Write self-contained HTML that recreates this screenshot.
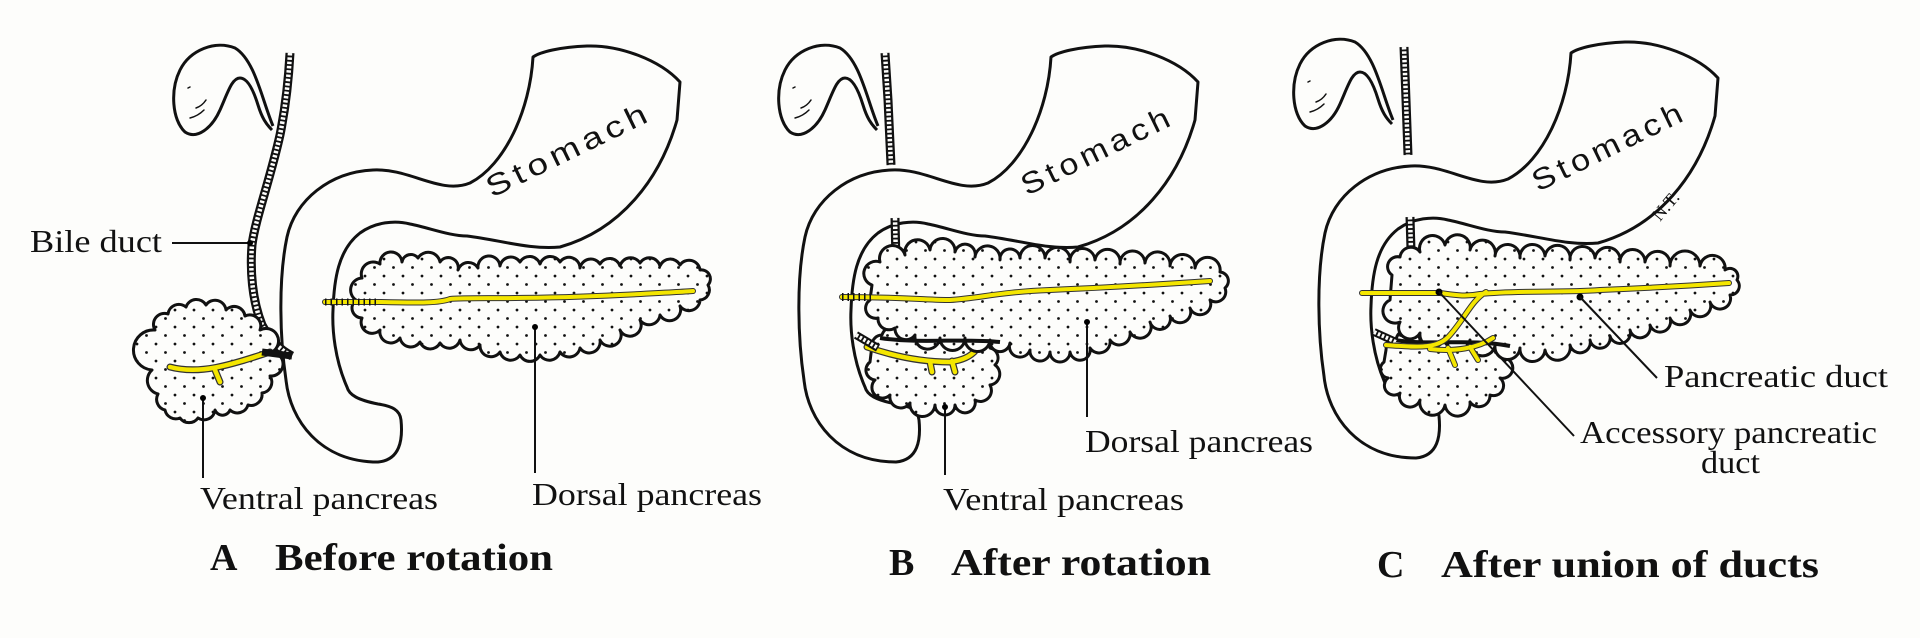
<!DOCTYPE html>
<html><head><meta charset="utf-8"><style>
html,body{margin:0;padding:0;background:#fdfdfb;}
svg{display:block}
.o{fill:none;stroke:#111;stroke-width:3;stroke-linecap:round;stroke-linejoin:round}
.w{fill:#fdfdfb;stroke:#111;stroke-width:3;stroke-linejoin:round}
.p{fill:url(#dots);stroke:#111;stroke-width:3;stroke-linejoin:round}
.hb{fill:none;stroke:#111;stroke-width:9;stroke-linecap:butt}
.hw{fill:none;stroke:#fdfdfb;stroke-width:4.5;stroke-dasharray:2.5 1.8}
.yb{fill:none;stroke:#333;stroke-width:7;stroke-linecap:round;stroke-linejoin:round}
.yy{fill:none;stroke:#f4e600;stroke-width:4.5;stroke-linecap:round;stroke-linejoin:round}
.ln{fill:none;stroke:#111;stroke-width:2}
.lab{font-family:"Liberation Serif",serif;font-size:32px;fill:#111}
.ttl{font-family:"Liberation Serif",serif;font-size:38px;font-weight:bold;fill:#111}
.st{font-family:"Liberation Sans",sans-serif;font-size:30px;fill:#111;letter-spacing:4px}
</style></head><body>
<svg width="1920" height="638" viewBox="0 0 1920 638" xmlns="http://www.w3.org/2000/svg">
<defs>
<pattern id="dots" width="19" height="17" patternUnits="userSpaceOnUse">
<rect width="19" height="17" fill="#fdfdfb"/>
<circle cx="4" cy="4" r="1.4" fill="#111"/><circle cx="13.5" cy="12.5" r="1.4" fill="#111"/>
</pattern>
<g id="stom">
<path class="w" d="M533,57 C530,110 505,165 470,183 C440,195 410,168 373,170 C330,172 295,200 287,237 C278,280 280,340 286,380 C290,420 320,462 378,462 C400,460 403,440 401,420 C400,410 392,406 378,404 C358,400 349,395 347,387 C335,360 332,330 333,310 C334,280 338,250 360,233 C375,222 395,220 410,224 C430,228 450,236 467,236 C500,240 530,250 560,247 C620,230 660,180 677,120 L680,82 C660,60 620,45 587,46 C560,47 540,52 533,57 Z"/>
</g>
<g id="gb">
<path class="w" d="M273,126 C262,100 255,60 235,48 C215,40 190,50 180,70 C170,90 172,120 185,132 C197,140 212,128 220,110 C228,92 232,78 240,78 C248,78 254,92 258,105 C262,118 266,124 272,130"/>
<path class="o" d="M190,118 q8,-2 14,-8 M196,108 q6,-2 10,-8 M188,88 l2,-1" style="stroke-width:1.5"/>
</g>
</defs>

<!-- ===== Panel A ===== -->
<use href="#stom"/>
<use href="#gb"/>
<path class="hb" d="M290,53 C288,90 283,120 280,135 C270,180 255,220 252,245 C250,270 252,300 262,325 C270,340 280,350 292,356"/>
<path class="hw" d="M290,53 C288,90 283,120 280,135 C270,180 255,220 252,245 C250,270 252,300 262,325 C270,340 280,350 292,356"/>
<path class="p" d="M155,330 A11,11 0 0 1 168,314 A11,11 0 0 1 186,307 A11,11 0 0 1 206,305 A11,11 0 0 1 226,310 A11,11 0 0 1 245,316 A11,11 0 0 1 260,330 A12,12 0 0 1 272,352 A12,12 0 0 1 270,376 A11,11 0 0 1 262,393 A11,11 0 0 1 248,405 A11,11 0 0 1 230,410 A8,8 0 0 1 215,410 A11,11 0 0 1 198,418 A11,11 0 0 1 180,418 A11,11 0 0 1 165,410 A11,11 0 0 1 158,394 A14,14 0 0 1 152,370 A11,11 0 0 1 155,330 Z"/>
<path class="yb" d="M170,367 C200,375 230,365 270,352 M215,370 L220,382"/>
<path class="yy" d="M170,367 C200,375 230,365 270,352 M215,370 L220,382"/>
<path class="hb" d="M262,352 L292,356" style="stroke-width:7"/>
<path class="p" d="M356,300 A12,12 0 0 1 362,278 A12,12 0 0 1 380,264 A11,11 0 0 1 402,262 A9,9 0 0 1 418,258 A12,12 0 0 1 440,262 A10,10 0 0 1 458,270 A11,11 0 0 1 478,268 A11,11 0 0 1 500,266 A11,11 0 0 1 520,262 A11,11 0 0 1 540,264 A11,11 0 0 1 560,262 A11,11 0 0 1 580,268 A11,11 0 0 1 600,264 A11,11 0 0 1 620,266 A11,11 0 0 1 640,263 A11,11 0 0 1 660,266 A11,11 0 0 1 680,265 A11,11 0 0 1 700,270 A9,9 0 0 1 708,285 A10,10 0 0 1 700,300 A11,11 0 0 1 680,306 A11,11 0 0 1 660,315 A11,11 0 0 1 640,320 A11,11 0 0 1 620,330 A11,11 0 0 1 600,340 A11,11 0 0 1 580,348 A11,11 0 0 1 560,352 A11,11 0 0 1 540,355 A11,11 0 0 1 520,355 A11,11 0 0 1 500,352 A11,11 0 0 1 480,345 A11,11 0 0 1 460,340 A11,11 0 0 1 440,343 A11,11 0 0 1 420,342 A11,11 0 0 1 400,338 A11,11 0 0 1 380,330 A11,11 0 0 1 362,318 A10,10 0 0 1 356,300 Z"/>
<path class="yb" d="M325,302 L380,302 C420,303 440,303 450,299 C470,297 520,300 620,295 C660,293 680,292 693,291" style="stroke-width:6"/>
<path class="yy" d="M325,302 L380,302 C420,303 440,303 450,299 C470,297 520,300 620,295 C660,293 680,292 693,291" style="stroke-width:4"/>
<path d="M325,302 L380,302" style="stroke:#111;stroke-width:7;stroke-dasharray:1.5 4;fill:none"/>
<path class="ln" d="M172,243 L250,243"/><circle cx="250" cy="243" r="3"/>
<text class="lab" x="30" y="252" textLength="132" lengthAdjust="spacingAndGlyphs">Bile duct</text>
<path class="ln" d="M203,398 L203,478"/><circle cx="203" cy="398" r="3"/>
<path class="ln" d="M535,327 L535,473"/><circle cx="535" cy="327" r="3"/>
<text class="lab" x="200" y="509" textLength="238" lengthAdjust="spacingAndGlyphs">Ventral pancreas</text>
<text class="lab" x="532" y="505" textLength="230" lengthAdjust="spacingAndGlyphs">Dorsal pancreas</text>
<text class="st" transform="translate(492,198) rotate(-26)" textLength="180" lengthAdjust="spacingAndGlyphs">Stomach</text>
<text class="ttl" x="210" y="570">A</text>
<text class="ttl" x="275" y="570" textLength="278" lengthAdjust="spacingAndGlyphs">Before rotation</text>

<!-- ===== Panel B ===== -->
<use href="#stom" transform="translate(518,0)"/>
<use href="#gb" transform="translate(605,0)"/>
<path class="hb" d="M885,53 L888,100 L891,165"/><path class="hw" d="M885,53 L888,100 L891,165"/>
<path class="hb" d="M895,218 L896,262"/><path class="hw" d="M895,218 L896,262"/>
<path class="p" d="M872,345 A10,10 0 0 1 882,335 A12,12 0 0 1 905,335 A12,12 0 0 1 930,338 A12,12 0 0 1 955,340 A10,10 0 0 1 975,338 A10,10 0 0 1 990,348 A10,10 0 0 1 995,365 A11,11 0 0 1 990,385 A11,11 0 0 1 975,400 A10,10 0 0 1 955,405 A10,10 0 0 1 935,405 A12,12 0 0 1 910,403 A11,11 0 0 1 890,395 A10,10 0 0 1 875,380 A10,10 0 0 1 870,362 Z"/>
<path class="yb" d="M867,347 C890,355 920,362 950,362 C965,360 972,355 976,350 M930,362 L932,372 M952,361 L955,372"/>
<path class="yy" d="M867,347 C890,355 920,362 950,362 C965,360 972,355 976,350 M930,362 L932,372 M952,361 L955,372"/>
<path class="hb" d="M856,335 L878,348" style="stroke-width:8"/><path class="hw" d="M856,335 L878,348" style="stroke-width:4"/>
<path class="p" d="M872,285 A12,12 0 0 1 880,262 A12,12 0 0 1 905,255 A12,12 0 0 1 930,250 A12,12 0 0 1 955,252 A10,10 0 0 1 975,257 A12,12 0 0 1 1000,260 A10,10 0 0 1 1020,258 A12,12 0 0 1 1045,258 A12,12 0 0 1 1070,262 A12,12 0 0 1 1095,260 A12,12 0 0 1 1120,264 A12,12 0 0 1 1145,263 A12,12 0 0 1 1170,266 A12,12 0 0 1 1195,268 A12,12 0 0 1 1220,272 A9,9 0 0 1 1225,288 A10,10 0 0 1 1210,300 A10,10 0 0 1 1190,308 A10,10 0 0 1 1170,316 A10,10 0 0 1 1150,322 A11,11 0 0 1 1130,332 A11,11 0 0 1 1110,340 A11,11 0 0 1 1090,348 A10,10 0 0 1 1070,352 A10,10 0 0 1 1050,352 A10,10 0 0 1 1030,350 A10,10 0 0 1 1010,343 A10,10 0 0 1 990,340 A12,12 0 0 1 965,338 A12,12 0 0 1 940,338 A12,12 0 0 1 915,335 A11,11 0 0 1 895,328 A11,11 0 0 1 878,318 A10,10 0 0 1 870,300 Z"/>
<path d="M880,338 C920,344 960,338 1000,342" style="fill:none;stroke:#111;stroke-width:4"/>
<path class="yb" d="M842,297 C900,297 930,300 950,300 C980,298 1000,292 1050,290 C1100,288 1150,285 1210,281" style="stroke-width:6"/>
<path class="yy" d="M842,297 C900,297 930,300 950,300 C980,298 1000,292 1050,290 C1100,288 1150,285 1210,281" style="stroke-width:4"/>
<path d="M842,297 L872,297" style="stroke:#111;stroke-width:8;stroke-dasharray:1.5 4;fill:none"/>
<path class="ln" d="M945,407 L945,475"/><circle cx="945" cy="407" r="3"/>
<path class="ln" d="M1087,322 L1087,417"/><circle cx="1087" cy="322" r="3"/>
<text class="lab" x="943" y="510" textLength="241" lengthAdjust="spacingAndGlyphs">Ventral pancreas</text>
<text class="lab" x="1085" y="452" textLength="228" lengthAdjust="spacingAndGlyphs">Dorsal pancreas</text>
<text class="st" transform="translate(1027,196) rotate(-26)" textLength="166" lengthAdjust="spacingAndGlyphs">Stomach</text>
<text class="ttl" x="889" y="575">B</text>
<text class="ttl" x="951" y="575" textLength="260" lengthAdjust="spacingAndGlyphs">After rotation</text>

<!-- ===== Panel C ===== -->
<use href="#stom" transform="translate(1038,-4)"/>
<use href="#gb" transform="translate(1120,-6)"/>
<path class="hb" d="M1404,47 L1406,100 L1408,155"/><path class="hw" d="M1404,47 L1406,100 L1408,155"/>
<path class="hb" d="M1410,217 L1411,250"/><path class="hw" d="M1410,217 L1411,250"/>
<path class="p" d="M1386,350 A10,10 0 0 1 1396,340 A12,12 0 0 1 1420,343 A12,12 0 0 1 1445,342 A12,12 0 0 1 1470,345 A12,12 0 0 1 1495,345 A9,9 0 0 1 1505,358 A10,10 0 0 1 1500,378 A10,10 0 0 1 1490,395 A11,11 0 0 1 1470,402 A12,12 0 0 1 1445,405 A12,12 0 0 1 1420,400 A10,10 0 0 1 1400,393 A9,9 0 0 1 1388,378 A9,9 0 0 1 1384,362 Z"/>
<path class="p" d="M1392,275 A10,10 0 0 1 1400,257 A11,11 0 0 1 1420,252 A12,12 0 0 1 1445,245 A12,12 0 0 1 1470,250 A12,12 0 0 1 1495,256 A12,12 0 0 1 1520,258 A12,12 0 0 1 1545,256 A12,12 0 0 1 1570,260 A12,12 0 0 1 1595,258 A12,12 0 0 1 1620,262 A12,12 0 0 1 1645,262 A12,12 0 0 1 1670,266 A14,14 0 0 1 1700,266 A12,12 0 0 1 1725,270 A8,8 0 0 1 1737,280 A9,9 0 0 1 1730,295 A10,10 0 0 1 1710,302 A10,10 0 0 1 1690,310 A10,10 0 0 1 1670,318 A10,10 0 0 1 1650,325 A10,10 0 0 1 1630,330 A10,10 0 0 1 1610,336 A10,10 0 0 1 1590,340 A10,10 0 0 1 1570,345 A12,12 0 0 1 1545,350 A12,12 0 0 1 1520,348 A12,12 0 0 1 1495,346 A12,12 0 0 1 1470,340 A12,12 0 0 1 1445,336 A12,12 0 0 1 1420,333 A11,11 0 0 1 1400,322 A11,11 0 0 1 1390,300 Z"/>
<path d="M1395,340 C1430,346 1470,338 1510,346" style="fill:none;stroke:#111;stroke-width:4"/>
<path class="hb" d="M1374,332 L1396,342" style="stroke-width:8"/><path class="hw" d="M1374,332 L1396,342" style="stroke-width:4"/>
<path class="yb" d="M1362,293 L1440,293 C1455,295 1465,297 1480,294 C1520,290 1560,293 1600,290 C1650,288 1700,285 1729,283 M1486,292 C1472,300 1465,318 1450,335 C1438,350 1415,347 1386,345 M1430,349 C1455,352 1478,348 1493,338 M1448,348 L1455,365 M1470,347 L1478,360" style="stroke-width:6"/>
<path class="yy" d="M1362,293 L1440,293 C1455,295 1465,297 1480,294 C1520,290 1560,293 1600,290 C1650,288 1700,285 1729,283 M1486,292 C1472,300 1465,318 1450,335 C1438,350 1415,347 1386,345 M1430,349 C1455,352 1478,348 1493,338 M1448,348 L1455,365 M1470,347 L1478,360" style="stroke-width:4"/>
<circle cx="1580" cy="297" r="3.5"/><path class="ln" d="M1580,297 L1657,378"/>
<circle cx="1439" cy="292" r="3.5"/><path class="ln" d="M1439,292 L1574,436"/>
<text class="lab" x="1664" y="387" textLength="224" lengthAdjust="spacingAndGlyphs">Pancreatic duct</text>
<text class="lab" x="1580" y="443" textLength="297" lengthAdjust="spacingAndGlyphs">Accessory pancreatic</text>
<text class="lab" x="1701" y="473" textLength="59" lengthAdjust="spacingAndGlyphs">duct</text>
<text class="st" transform="translate(1538,192) rotate(-26)" textLength="168" lengthAdjust="spacingAndGlyphs">Stomach</text>
<text transform="translate(1660,222) rotate(-50)" style="font-family:'Liberation Serif',serif;font-size:18px;fill:#111">N.T.</text>
<text class="ttl" x="1377" y="577">C</text>
<text class="ttl" x="1441" y="577" textLength="378" lengthAdjust="spacingAndGlyphs">After union of ducts</text>
</svg>
</body></html>
